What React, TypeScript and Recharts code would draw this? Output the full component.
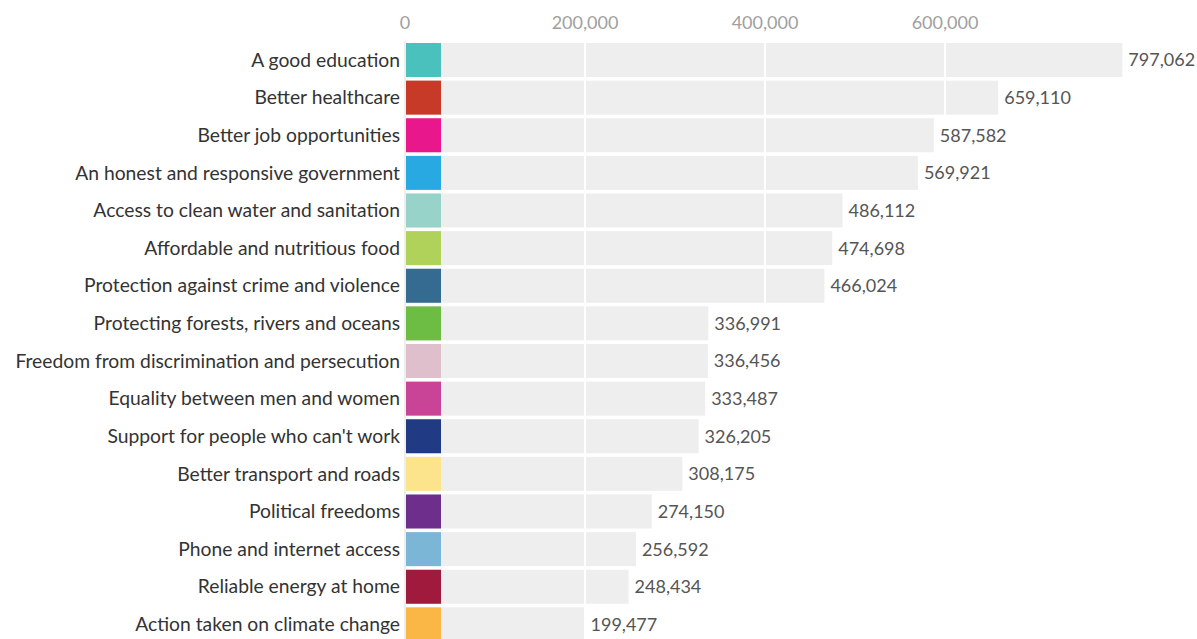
import React from 'react';
import { BarChart, Bar, XAxis, YAxis, CartesianGrid, LabelList } from 'recharts';

const categories = [
  'A good education',
  'Better healthcare',
  'Better job opportunities',
  'An honest and responsive government',
  'Access to clean water and sanitation',
  'Affordable and nutritious food',
  'Protection against crime and violence',
  'Protecting forests, rivers and oceans',
  'Freedom from discrimination and persecution',
  'Equality between men and women',
  "Support for people who can't work",
  'Better transport and roads',
  'Political freedoms',
  'Phone and internet access',
  'Reliable energy at home',
  'Action taken on climate change',
];

const votes = [
  797062, 659110, 587582, 569921, 486112, 474698, 466024, 336991,
  336456, 333487, 326205, 308175, 274150, 256592, 248434, 199477,
];

const colors = [
  '#4bc1bd', '#c83a28', '#e8178b', '#29a9e1', '#98d3c9', '#b0d15a',
  '#356b90', '#6dbd45', '#dfbfcb', '#c94497', '#213a84', '#fce48c',
  '#6e2e8c', '#7bb6d7', '#9f1a3d', '#fbb746',
];

const xTicks = [0, 200000, 400000, 600000];

const data = categories.map((name, i) => ({ name, value: votes[i], color: colors[i] }));

const fmt = (v: number) => v.toLocaleString('en-US');

const BarShape = (props: any) => {
  const { x, y, width, height, payload } = props;
  return (
    <g>
      <rect x={x} y={y} width={width} height={height} fill="#eeeeee" />
      <rect x={x} y={y} width={36} height={height} fill={payload.color} />
    </g>
  );
};

export default function App() {
  return (
    <div style={{ position: 'fixed', left: 0, top: 0, width: 1197, height: 639, overflow: 'hidden', background: '#fff' }}>
      <BarChart
        width={1197}
        height={643}
        data={data}
        layout="vertical"
        margin={{ top: 11, right: 72, bottom: 0, left: 0 }}
        barSize={34}
      >
        <CartesianGrid horizontal={false} vertical={true} stroke="#ffffff" strokeWidth={2} zIndex={350} />
        <XAxis
          type="number"
          orientation="top"
          domain={[0, 800000]}
          ticks={xTicks}
          tickFormatter={fmt}
          axisLine={false}
          tickLine={false}
          tickSize={0}
          height={30}
          tick={{ fill: '#a0a0a0', fontSize: 18, fontFamily: 'Lato' }}
          tickMargin={12}
        />
        <YAxis
          type="category"
          dataKey="name"
          width={405}
          axisLine={{ stroke: '#dddddd' }}
          tickLine={false}
          tickSize={0}
          tickMargin={5}
          interval={0}
          tick={{ fill: '#333333', fontSize: 19.3, fontFamily: 'Lato' }}
        />
        <Bar dataKey="value" isAnimationActive={false} shape={BarShape}>
          <LabelList
            dataKey="value"
            position="right"
            formatter={(v: any) => fmt(Number(v))}
            style={{ fill: '#555555', fontSize: 18, fontFamily: 'Lato' }}
            offset={6}
          />
        </Bar>
      </BarChart>
    </div>
  );
}
